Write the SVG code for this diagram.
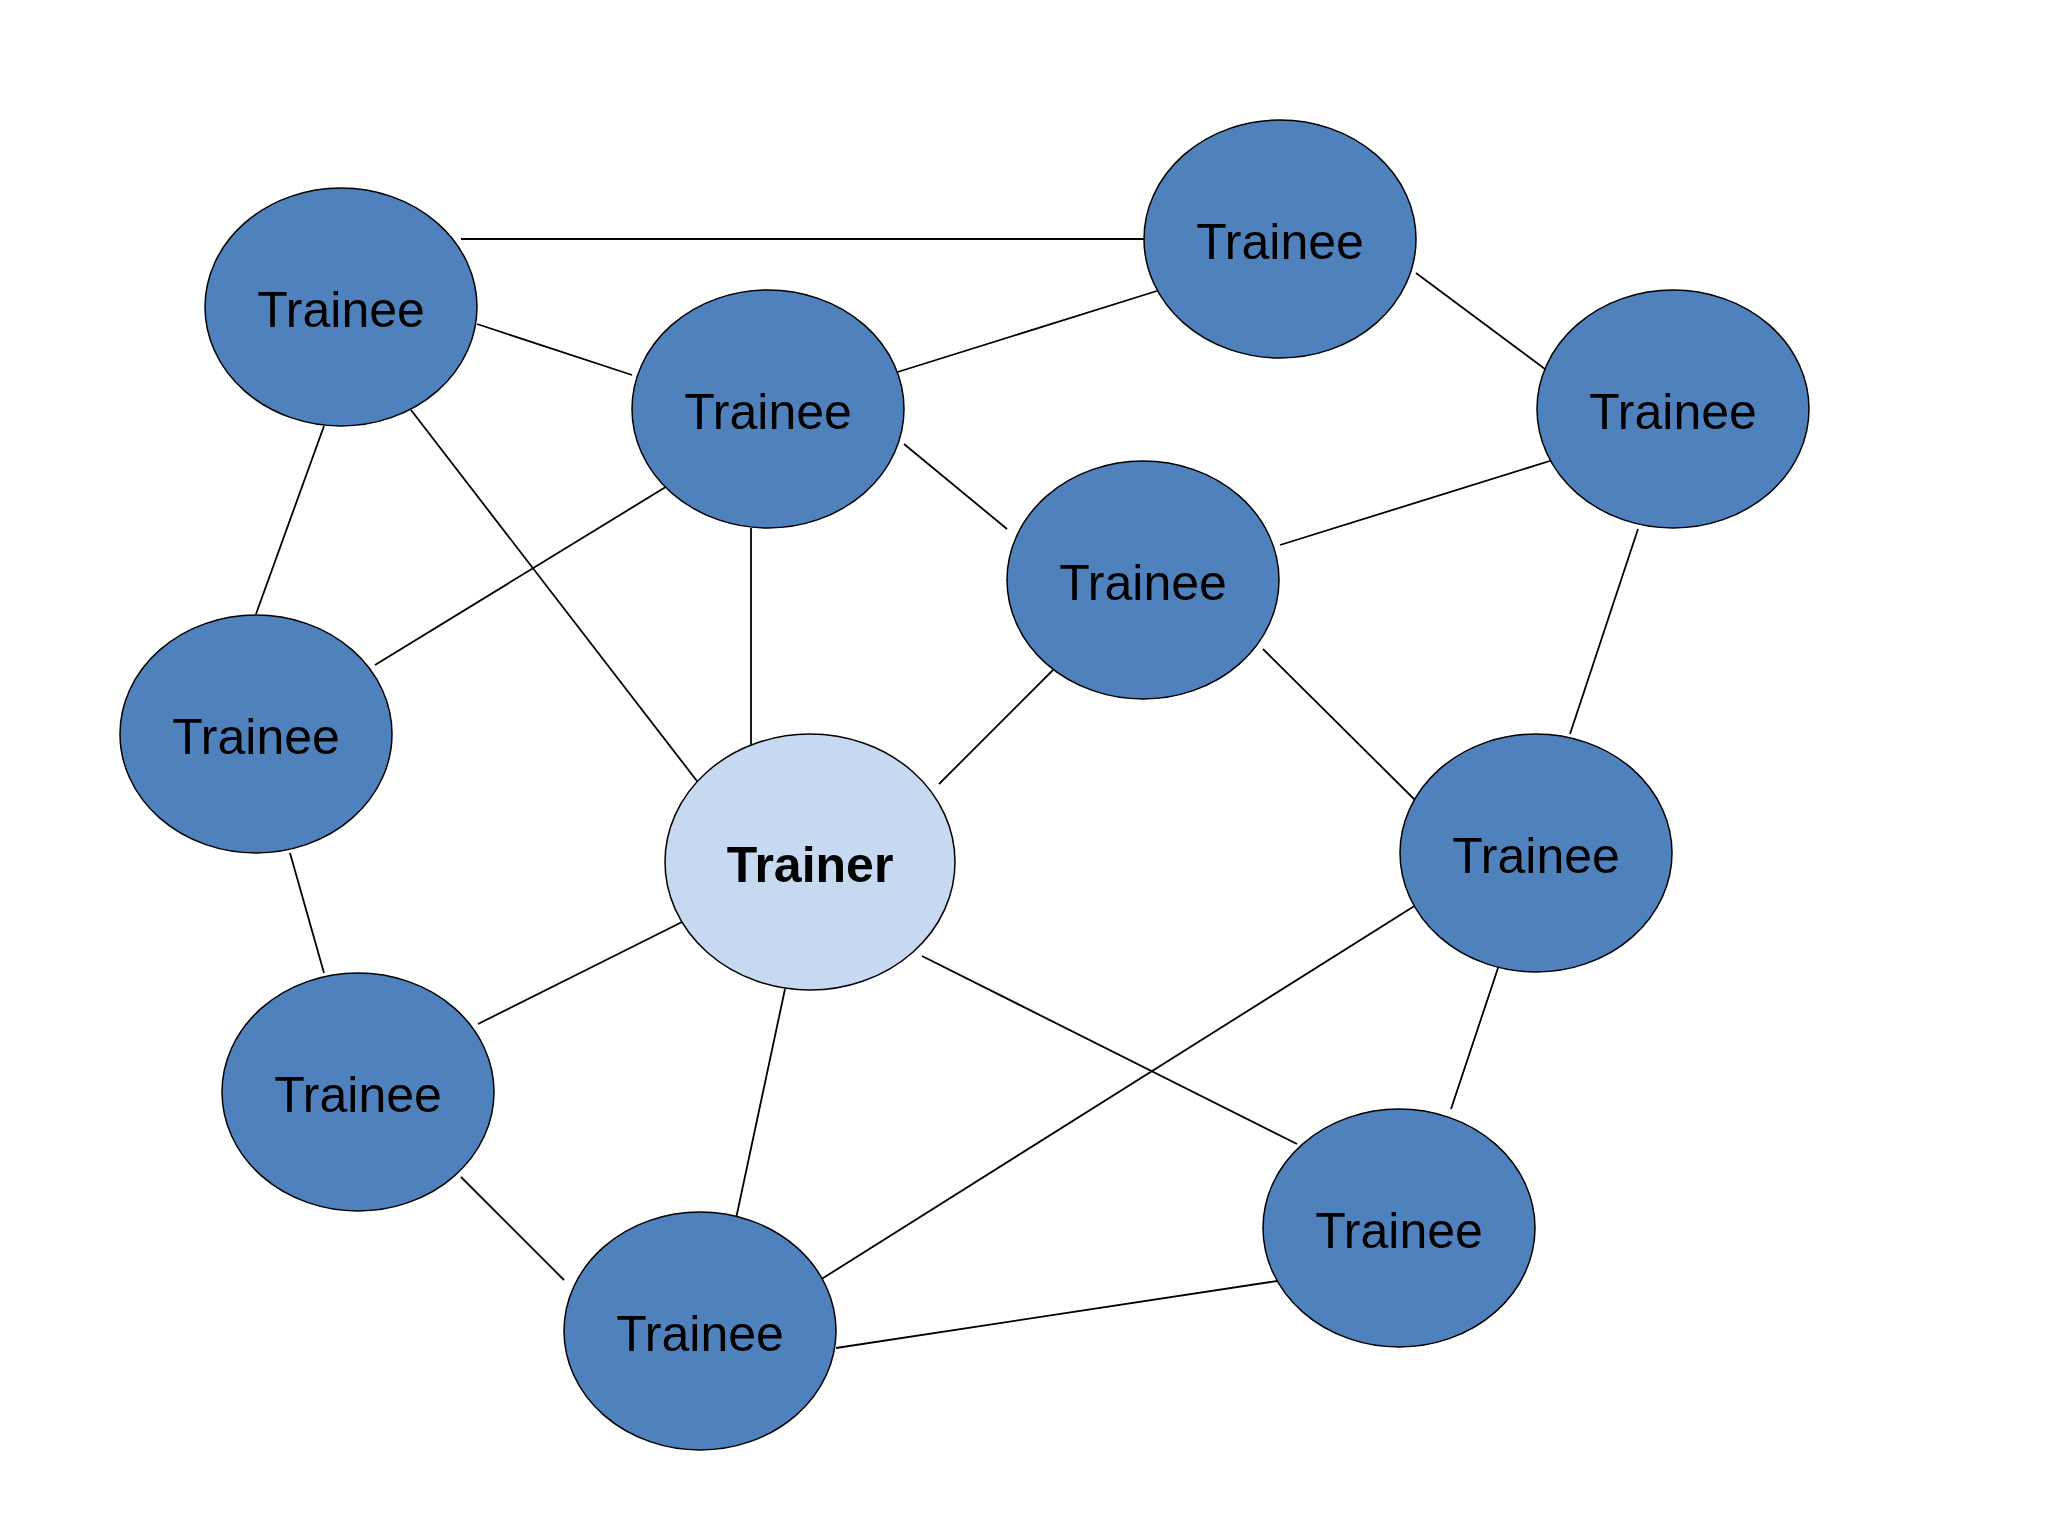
<svg xmlns="http://www.w3.org/2000/svg" width="2048" height="1536" viewBox="0 0 2048 1536">
<style>
.n{fill:#4f81bd;stroke:#000;stroke-width:1.5}
.t{fill:#c6d9f0;stroke:#000;stroke-width:1.5}
text{font-family:"Liberation Sans",Arial,sans-serif;font-size:50px;text-anchor:middle;dominant-baseline:central;fill:#000}
#conn line{stroke:#000;stroke-width:1.8}
</style>
<rect width="2048" height="1536" fill="#fff"/>
<g id="conn">
<line x1="461" y1="239" x2="1144" y2="239"/>
<line x1="477" y1="324" x2="632" y2="375"/>
<line x1="888" y1="375" x2="1160" y2="290"/>
<line x1="1416" y1="273" x2="1553" y2="375"/>
<line x1="904" y1="444" x2="1007" y2="529"/>
<line x1="1280" y1="545" x2="1553" y2="460"/>
<line x1="324" y1="426" x2="256" y2="614"/>
<line x1="411" y1="410" x2="700" y2="785"/>
<line x1="682" y1="477" x2="375" y2="665"/>
<line x1="751" y1="528" x2="751" y2="750"/>
<line x1="1638" y1="529" x2="1570" y2="734"/>
<line x1="1057" y1="666" x2="939" y2="784"/>
<line x1="1263" y1="649" x2="1416" y2="801"/>
<line x1="290" y1="853" x2="324" y2="973"/>
<line x1="682" y1="922" x2="478" y2="1024"/>
<line x1="785" y1="989" x2="734" y2="1228"/>
<line x1="922" y1="956" x2="1297" y2="1144"/>
<line x1="1416" y1="905" x2="820" y2="1280"/>
<line x1="1502" y1="956" x2="1451" y2="1109"/>
<line x1="461" y1="1177" x2="564" y2="1280"/>
<line x1="836" y1="1348" x2="1277" y2="1281"/>
</g>
<g id="n1"><ellipse class="n" cx="341" cy="307" rx="136" ry="119"/><text x="341" y="310">Trainee</text></g>
<g id="n2"><ellipse class="n" cx="1280" cy="239" rx="136" ry="119"/><text x="1280" y="242">Trainee</text></g>
<g id="n3"><ellipse class="n" cx="768" cy="409" rx="136" ry="119"/><text x="768" y="412">Trainee</text></g>
<g id="n4"><ellipse class="n" cx="1673" cy="409" rx="136" ry="119"/><text x="1673" y="412">Trainee</text></g>
<g id="n5"><ellipse class="n" cx="1143" cy="580" rx="136" ry="119"/><text x="1143" y="583">Trainee</text></g>
<g id="n6"><ellipse class="n" cx="256" cy="734" rx="136" ry="119"/><text x="256" y="737">Trainee</text></g>
<g id="trainer"><ellipse class="t" cx="810" cy="862" rx="145" ry="128"/><text x="810" y="865" font-weight="bold">Trainer</text></g>
<g id="n8"><ellipse class="n" cx="1536" cy="853" rx="136" ry="119"/><text x="1536" y="856">Trainee</text></g>
<g id="n9"><ellipse class="n" cx="358" cy="1092" rx="136" ry="119"/><text x="358" y="1095">Trainee</text></g>
<g id="n10"><ellipse class="n" cx="1399" cy="1228" rx="136" ry="119"/><text x="1399" y="1231">Trainee</text></g>
<g id="n11"><ellipse class="n" cx="700" cy="1331" rx="136" ry="119"/><text x="700" y="1334">Trainee</text></g>
</svg>
